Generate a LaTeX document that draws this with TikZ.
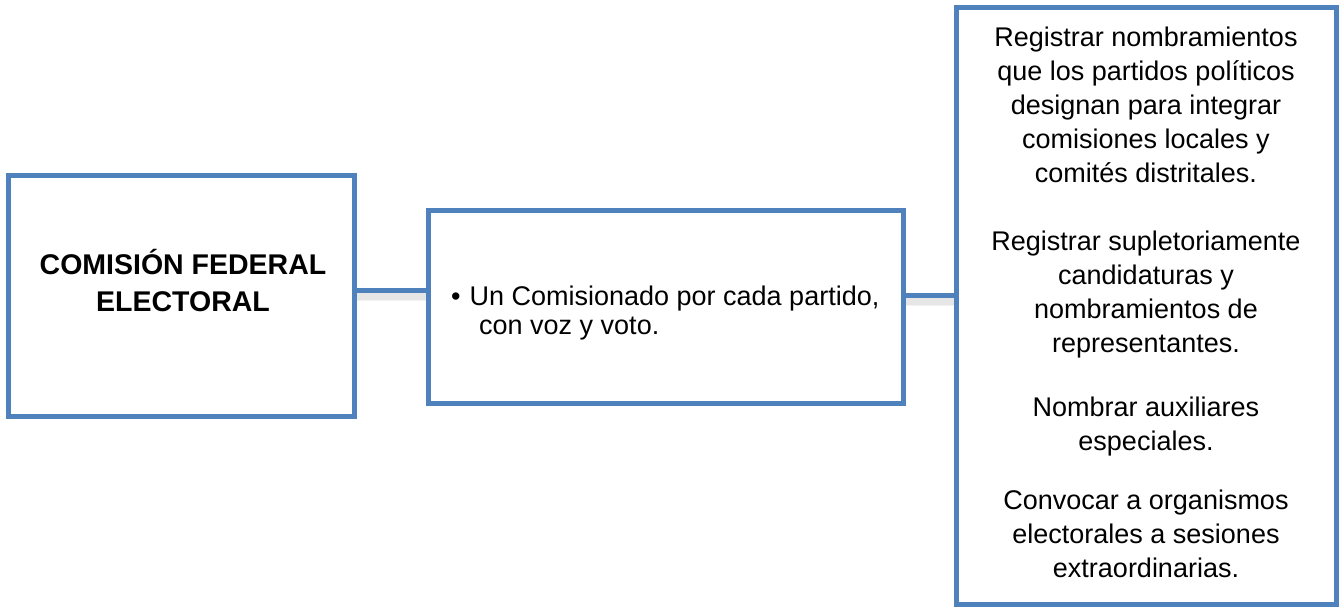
\documentclass[tikz,border=0pt]{standalone}
\usepackage{fontspec}
\setmainfont{Liberation Sans}
\usetikzlibrary{positioning,calc}
\definecolor{boxblue}{RGB}{79,129,189}

\begin{document}
\begin{tikzpicture}[x=1pt,y=-1pt,
    box/.style   = {draw=boxblue, line width=5pt, inner sep=0pt},
    link/.style  = {draw=boxblue, line width=5pt},
    haze/.style  = {draw=black, opacity=0.05, line width=2pt},
    txt/.style   = {inner sep=0pt, align=center, font=\fontsize{27}{34}\selectfont},
    head/.style  = {inner sep=0pt, align=center, font=\fontsize{28.5}{37}\selectfont\bfseries}]
  \useasboundingbox (0,0) rectangle (1341,609);
  % boxes
  \node[box, minimum width=346.5pt, minimum height=240pt]   (cfe)   at (181.25,296) {};
  \node[box, minimum width=474.5pt, minimum height=192pt]   (comis) at (665.75,307) {};
  \node[box, minimum width=379.5pt, minimum height=596.5pt] (funcs) at (1146.25,305.75) {};
  % texts (base = last line)
  \node[head, anchor=base] (cfetxt) at (183,312) {COMISIÓN FEDERAL\\ELECTORAL};
  \node[txt, anchor=base west, align=left, font=\fontsize{27}{28.5}\selectfont] (comistxt) at (451,334.5)
    {\textbullet\hspace{9pt}Un Comisionado por cada partido,\\\hspace*{28pt}con voz y voto.};
  \node[txt, anchor=base] (f1) at (1146,183)
    {Registrar nombramientos\\que los partidos políticos\\designan para integrar\\comisiones locales y\\comités distritales.};
  \node[txt, anchor=base] (f2) at (1146,353)
    {Registrar supletoriamente\\candidaturas y\\nombramientos de\\representantes.};
  \node[txt, anchor=base] (f3) at (1146,450) {Nombrar auxiliares\\especiales.};
  \node[txt, anchor=base] (f4) at (1146,577)
    {Convocar a organismos\\electorales a sesiones\\extraordinarias.};
  % connectors
  \coordinate (a1) at ($(cfe.east)+(0,-5.5)$);
  \coordinate (a2) at (a1 -| comis.west);
  \coordinate (b1) at ($(comis.east)+(0,-11.5)$);
  \coordinate (b2) at (b1 -| funcs.west);
  \foreach \d in {3,4,5,6,7,8,9,10} {
    \draw[haze] ($(a1)+(0,\d)$) -- ($(a2)+(0,\d)$);
    \draw[haze] ($(b1)+(0,\d)$) -- ($(b2)+(0,\d)$);
  }
  \draw[link] (a1) -- (a2);
  \draw[link] (b1) -- (b2);
\end{tikzpicture}
\end{document}
